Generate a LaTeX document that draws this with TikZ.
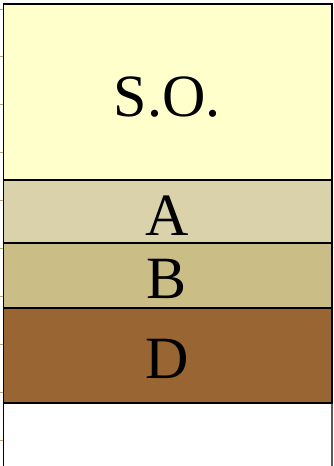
\documentclass[tikz,border=0pt]{standalone}
\usepackage{fontspec}
\setmainfont{Liberation Serif}
\definecolor{so}{HTML}{FFFFCC}
\definecolor{la}{HTML}{DAD2AB}
\definecolor{lb}{HTML}{CABD86}
\definecolor{ld}{HTML}{996633}
\definecolor{tick}{HTML}{B8A868}
\begin{document}
\begin{tikzpicture}[x=1pt,y=-1pt,
  layer/.style={draw=black,line width=1.3pt},
  lbl/.style={anchor=base,inner sep=0pt,font=\fontsize{60}{60}\selectfont}]
\useasboundingbox (0,0) rectangle (334,466);
% ticks
\foreach \t in {9,56,104,152,200,248,296,344,392,440}
  \draw[tick,line width=0.8pt] (0,\t) -- (3.5,\t);
% side lines
\draw[line width=1.3pt] (3.5,4) -- (3.5,466);
\draw[gray!70!black,line width=1.2pt] (332,4) -- (332,466);
% layers
\path[layer,fill=so] (3.5,4) rectangle (332,180);
\path[layer,fill=la] (3.5,180) rectangle (332,243);
\path[layer,fill=lb] (3.5,243) rectangle (332,308);
\path[layer,fill=ld] (3.5,308) rectangle (332,403);
\node[lbl] (tso) at (167,116) {S.O.};
\node[lbl] (ta) at (167,235) {A};
\node[lbl] (tb) at (167,298) {B};
\node[lbl] (td) at (167,378) {D};
\end{tikzpicture}
\end{document}
